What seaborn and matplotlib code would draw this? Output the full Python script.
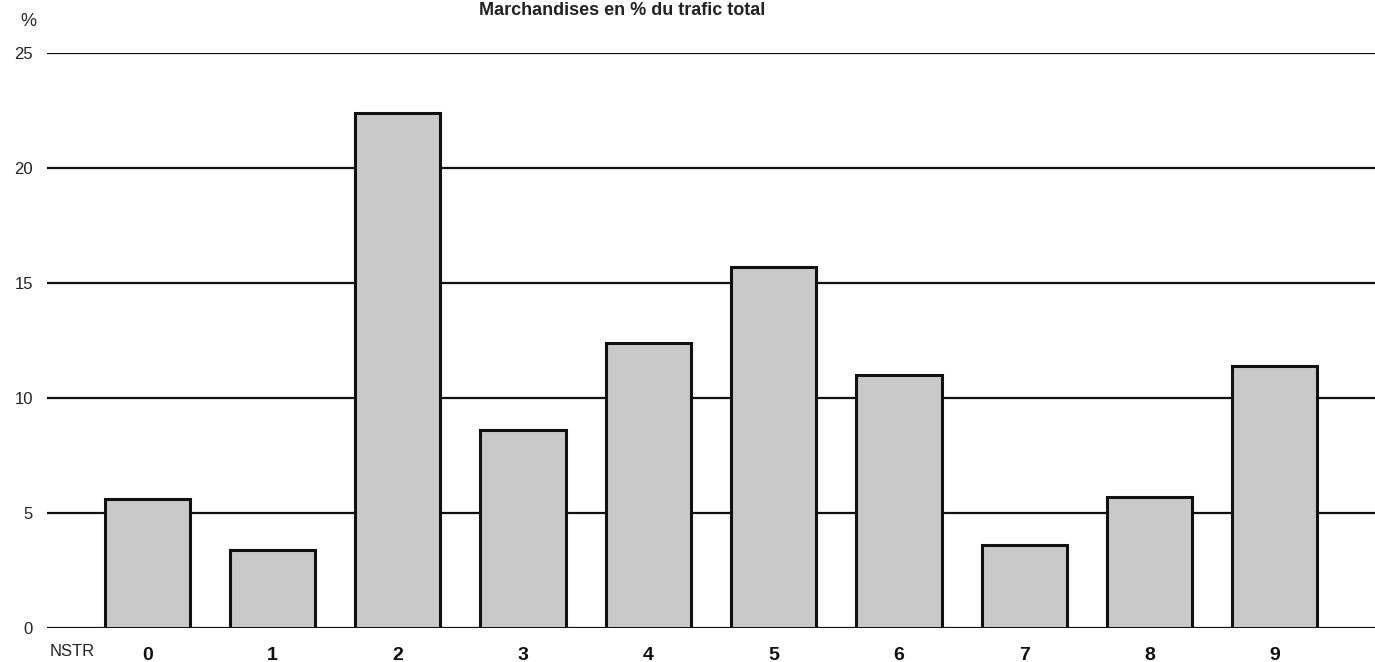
import matplotlib
matplotlib.use("Agg")
import matplotlib.pyplot as plt
import seaborn as sns
import pandas as pd

# NSTR goods chapters and share of total traffic (%)
categories = ["0", "1", "2", "3", "4", "5", "6", "7", "8", "9"]
shares = [5.6, 3.4, 22.4, 8.6, 12.4, 15.7, 11.0, 3.6, 5.7, 11.4]
y_ticks = [0, 5, 10, 15, 20, 25]
title = "Marchandises en % du trafic total"

sns.set_style("white")
plt.rcParams["font.family"] = ["Liberation Sans Narrow", "Liberation Sans", "DejaVu Sans"]

df = pd.DataFrame({"nstr": categories, "share": shares})

fig = plt.figure(figsize=(13.75, 6.62), dpi=100)
ax = fig.add_axes([47 / 1375, 34 / 662, 1 - 47 / 1375, (628 - 53) / 662])

# horizontal rules behind the bars
for t in y_ticks:
    ax.axhline(t, color="#111111", lw=1.6, zorder=0)

sns.barplot(data=df, x="nstr", y="share", color="#c9c9c9", width=0.68,
            edgecolor="#111111", linewidth=2.2, saturation=1, ax=ax, zorder=2)

ax.set_xlim(-0.8, 9.8)
ax.set_ylim(0, 25)
ax.set_yticks(y_ticks)
ax.set_yticklabels([str(t) for t in y_ticks], fontsize=12, color="#222222")
ax.tick_params(axis="y", length=0, pad=10)
ax.tick_params(axis="x", length=0, pad=14, labelsize=14, labelcolor="#111111")
for lab in ax.get_xticklabels():
    lab.set_fontweight("bold")
ax.set_xlabel("")
ax.set_ylabel("")
sns.despine(ax=ax, left=True, bottom=True, right=True, top=True)

fig.text(72 / 1375, 1 - 652 / 662, "NSTR", fontsize=12, ha="center", va="center", color="#222222")
fig.text(28 / 1375, 1 - 22 / 662, "%", fontsize=13, ha="center", va="center", color="#222222")
fig.text(622 / 1375, 1 - 2 / 662, title, fontsize=13, fontweight="bold",
         ha="center", va="top", color="#222222")

fig.savefig("out.png", dpi=100, facecolor="white")
